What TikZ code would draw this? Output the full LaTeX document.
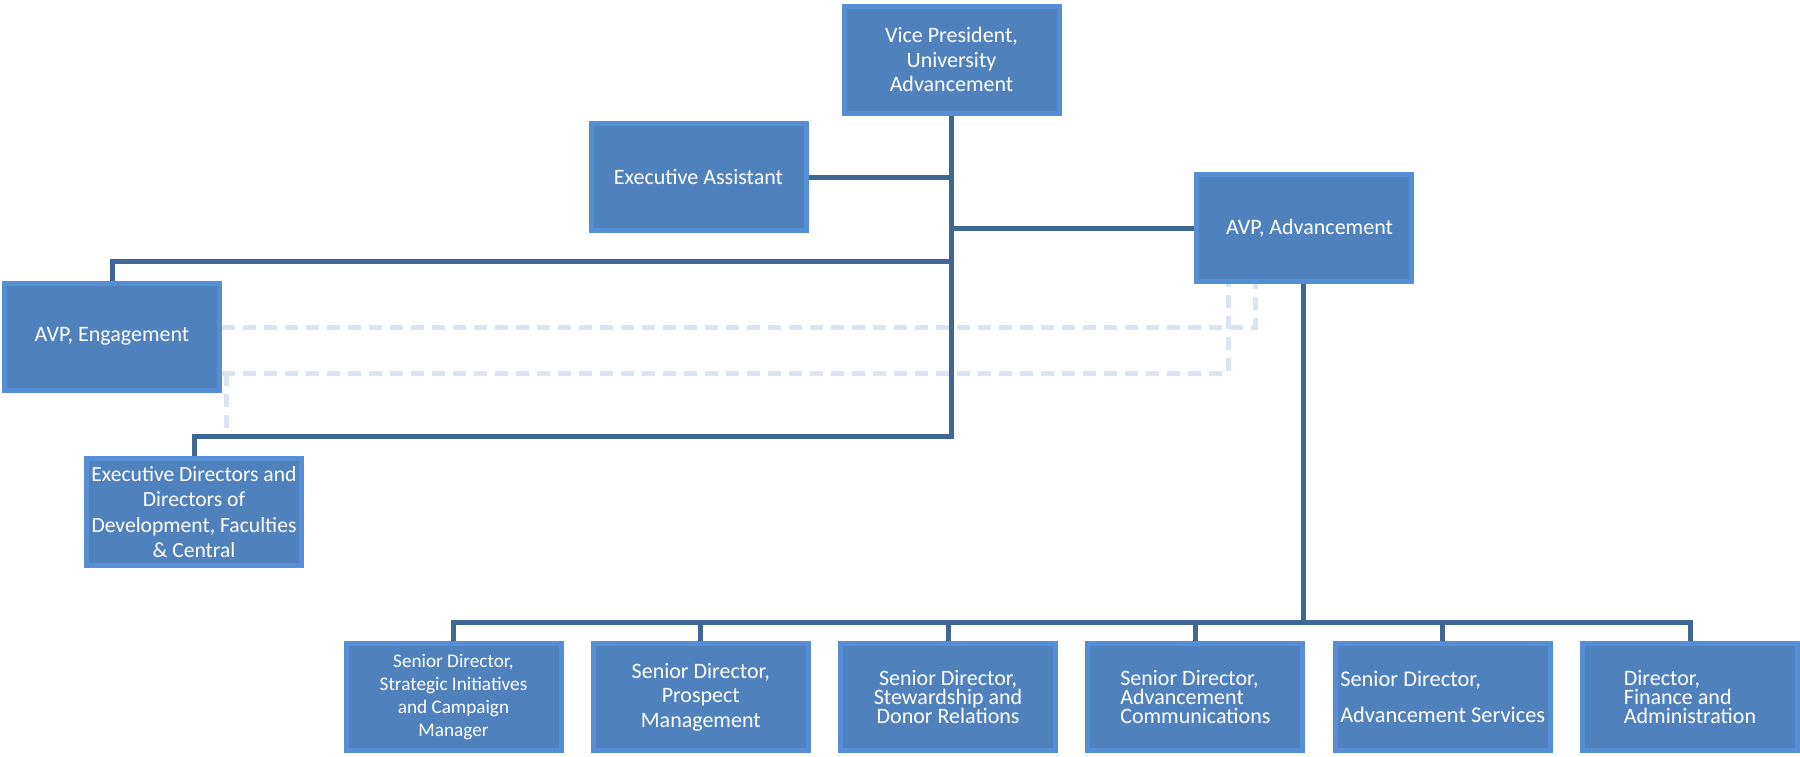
\documentclass[tikz,border=0pt]{standalone}
\usepackage{fontspec}
\setmainfont{Carlito}
\usetikzlibrary{positioning}

\definecolor{boxfill}{HTML}{4F81BD}
\definecolor{boxline}{HTML}{558ED5}
\definecolor{linkline}{HTML}{3F6796}
\definecolor{dashline}{HTML}{DCE4F2}

\begin{document}
\begin{tikzpicture}[auto, on grid, role/.style = {rectangle, fill = boxfill, draw = boxline, line width = 2.5pt, text = white, minimum width = 107.5pt, minimum height = 53.5pt, align = center, inner sep = 0.5pt, font = \fontsize{11}{12.3}\selectfont}, link/.style = {draw = linkline, line width = 2.5pt}, dashlink/.style = {draw = dashline, line width = 2.5pt, dash pattern = on 6.5pt off 4pt}]
	\useasboundingbox (0,0) rectangle (900pt,-378pt);
	\node[role] (VP) at (475.75pt,-29.75pt) {Vice President,\\University\\Advancement};
	\node[role] (Asst) [below left = 58.75pt and 126.5pt of VP] {Executive Assistant};
	\node[role] (Adv) [below right = 84.25pt and 176pt of VP] {\hspace{6pt}AVP, Advancement};
	\node[role] (Eng) [below left = 138.5pt and 419.75pt of VP] {AVP, Engagement};
	\node[role] (Dirs) [below right = 87.75pt and 41pt of Eng, font = \fontsize{10.8}{12.8}\selectfont] {Executive Directors and\\Directors of\\Development, Faculties\\\& Central};
	\node[role] (s1) [below left = 318.75pt and 249pt of VP, font = \fontsize{9.6}{11.5}\selectfont] {Senior Director,\\Strategic Initiatives\\and Campaign\\Manager};
	\node[role] (s2) [right = 123.65pt of s1] {Senior Director,\\Prospect\\Management};
	\node[role] (s3) [right = 123.65pt of s2, font = \fontsize{11}{9.5}\selectfont] {Senior Director,\\Stewardship and\\Donor Relations};
	\node[role] (s4) [right = 123.65pt of s3, align = left, font = \fontsize{11}{9.5}\selectfont] {Senior Director,\\Advancement\\Communications};
	\node[role] (s5) [right = 123.65pt of s4, align = left, font = \fontsize{11.2}{12.3}\selectfont] {Senior Director,\\[6pt]Advancement Services};
	\node[role] (s6) [right = 123.65pt of s5, align = left, font = \fontsize{11}{9.5}\selectfont] {Director,\\Finance and\\Administration};
	\coordinate (engbus) at (0,-130.5pt);
	\coordinate (dirbus) at (0,-218pt);
	\coordinate (bus) at (0,-311pt);
	\coordinate (dl) at ([yshift=-18.25pt]Eng.east);
	\draw[dashlink] ([yshift=4.75pt]Eng.east) -| ([xshift=-24.25pt]Adv.south);
	\draw[dashlink] (dl) -| ([xshift=-37.75pt]Adv.south);
	\draw[dashlink] ([xshift=2pt]dl) -- ([xshift=2pt]dl |- dirbus);
	\draw[link] (VP) -- (VP |- dirbus) -| (Dirs);
	\draw[link] (VP |- engbus) -| (Eng);
	\draw[link] (Asst) -- (VP |- Asst);
	\draw[link] (VP |- Adv) -- (Adv);
	\draw[link] (Adv) -- (Adv |- bus);
	\draw[link] (s1) |- (s6 |- bus) -- (s6);
	\foreach \i in {2,...,5}
		\draw[link] (s\i) -- (s\i |- bus);
\end{tikzpicture}
\end{document}
